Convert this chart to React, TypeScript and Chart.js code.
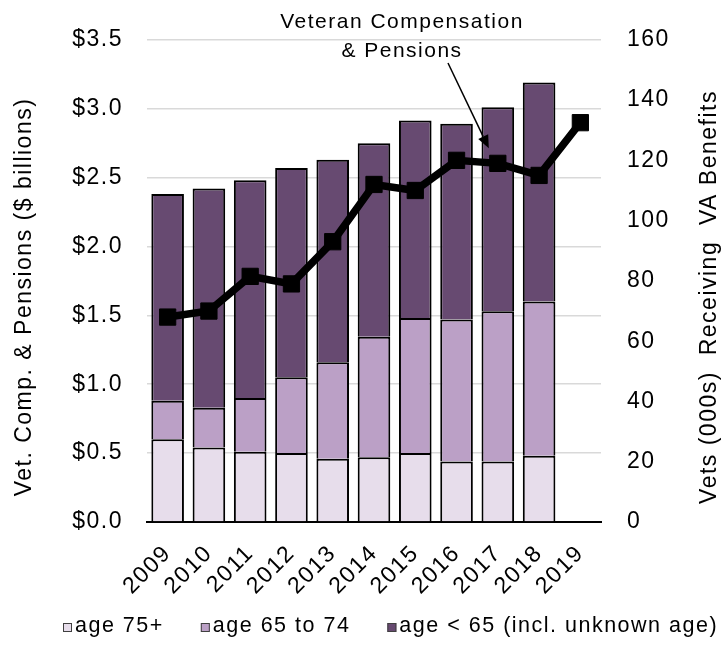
import React, { useEffect, useRef } from 'react';
import { Chart, registerables } from 'chart.js';

Chart.register(...registerables);

const FONT = "'Liberation Sans', Arial, Helvetica, sans-serif";
const LS = '1.5px';

const years = ['2009', '2010', '2011', '2012', '2013', '2014', '2015', '2016', '2017', '2018', '2019'];
const age75Plus = [0.6, 0.54, 0.51, 0.5, 0.46, 0.47, 0.5, 0.44, 0.44, 0.48];
const age65to74 = [0.28, 0.29, 0.39, 0.55, 0.7, 0.875, 0.98, 1.03, 1.09, 1.12];
const ageUnder65 = [1.5, 1.59, 1.58, 1.52, 1.47, 1.405, 1.435, 1.42, 1.48, 1.59];
const vetsReceiving = [68, 70, 81.5, 79, 93, 112, 110, 120, 119, 115, 132.5];

const leftTitle = 'Vet. Comp. & Pensions ($ billions)';
const rightTitle = 'Vets (000s)  Receiving  VA Benefits';
const annotationLines = ['Veteran Compensation', '& Pensions'];

const colors = {
  age75: '#E7DDEB',
  age65: '#BBA0C6',
  under65: '#674A71',
};

const legendItems = [
  { text: 'age 75+', color: colors.age75 },
  { text: 'age 65 to 74', color: colors.age65 },
  { text: 'age < 65 (incl. unknown age)', color: colors.under65 },
];

const spacingPlugin = {
  id: 'spacing',
  beforeInit(chart: any) { chart.ctx.letterSpacing = LS; },
  beforeUpdate(chart: any) { chart.ctx.letterSpacing = LS; },
  beforeLayout(chart: any) { chart.ctx.letterSpacing = LS; },
  beforeDraw(chart: any) { chart.ctx.letterSpacing = LS; },
};

const overlayPlugin = {
  id: 'overlay',
  afterDraw(chart: any) {
    const { ctx, scales } = chart;
    const x = scales.x;
    const y1 = scales.y1;
    ctx.save();
    ctx.letterSpacing = LS;
    ctx.fillStyle = '#000';
    ctx.strokeStyle = '#000';

    // axis titles
    ctx.font = `23px ${FONT}`;
    ctx.textAlign = 'center';
    ctx.textBaseline = 'middle';
    ctx.save();
    ctx.translate(25, 297);
    ctx.rotate(-Math.PI / 2);
    ctx.fillText(leftTitle, 0, 0);
    ctx.restore();
    ctx.save();
    ctx.translate(710, 297);
    ctx.rotate(-Math.PI / 2);
    ctx.fillText(rightTitle, 0, 0);
    ctx.restore();

    // annotation text
    ctx.font = `21px ${FONT}`;
    ctx.fillText(annotationLines[0], 402, 22);
    ctx.fillText(annotationLines[1], 402, 51);

    // arrow pointing at the 2017 point
    const tipX = x.getPixelForValue(8) - 9;
    const tipY = y1.getPixelForValue(124);
    const sx = 448;
    const sy = 63;
    const dx = tipX - sx;
    const dy = tipY - sy;
    const len = Math.hypot(dx, dy);
    const ux = dx / len;
    const uy = dy / len;
    const headLen = 13;
    const headHalf = 5.5;
    const bx = tipX - ux * headLen;
    const by = tipY - uy * headLen;
    ctx.lineWidth = 1.5;
    ctx.beginPath();
    ctx.moveTo(sx, sy);
    ctx.lineTo(bx, by);
    ctx.stroke();
    ctx.beginPath();
    ctx.moveTo(tipX, tipY);
    ctx.lineTo(bx - uy * headHalf, by + ux * headHalf);
    ctx.lineTo(bx + uy * headHalf, by - ux * headHalf);
    ctx.closePath();
    ctx.fill();

    // legend
    ctx.font = `21.5px ${FONT}`;
    ctx.textAlign = 'left';
    ctx.textBaseline = 'middle';
    let lx = 63;
    const ly = 626;
    legendItems.forEach((item) => {
      ctx.fillStyle = item.color;
      ctx.fillRect(lx, ly - 3, 9, 9);
      ctx.strokeStyle = '#404040';
      ctx.lineWidth = 1;
      ctx.strokeRect(lx + 0.5, ly - 2.5, 8, 8);
      ctx.fillStyle = '#000';
      const tx = lx + 12;
      ctx.fillText(item.text, tx, ly);
      lx = tx + ctx.measureText(item.text).width + 37;
    });

    ctx.restore();
  },
};

export default function App() {
  const canvasRef = useRef<HTMLCanvasElement | null>(null);

  useEffect(() => {
    document.body.style.margin = '0';
    const canvas = canvasRef.current;
    if (!canvas) return;
    Chart.defaults.font.family = FONT;
    Chart.defaults.color = '#000';

    const barBorder = { top: 2, left: 2, right: 2, bottom: 0 };

    const chart = new Chart(canvas, {
      type: 'bar',
      data: {
        labels: years,
        datasets: [
          {
            type: 'line',
            label: 'Vets Receiving VA Benefits',
            data: vetsReceiving,
            yAxisID: 'y1',
            borderColor: '#000',
            backgroundColor: '#000',
            borderWidth: 7.5,
            pointStyle: 'rect',
            pointRadius: 11.5,
            pointBorderWidth: 1,
            pointBackgroundColor: '#000',
            pointBorderColor: '#000',
            tension: 0,
            order: 0,
          } as any,
          {
            label: 'age 75+',
            data: age75Plus,
            backgroundColor: colors.age75,
            borderColor: '#000',
            borderWidth: barBorder,
            borderSkipped: false,
            barPercentage: 0.79,
            categoryPercentage: 1,
            yAxisID: 'y',
            order: 1,
          },
          {
            label: 'age 65 to 74',
            data: age65to74,
            backgroundColor: colors.age65,
            borderColor: '#000',
            borderWidth: barBorder,
            borderSkipped: false,
            barPercentage: 0.79,
            categoryPercentage: 1,
            yAxisID: 'y',
            order: 1,
          },
          {
            label: 'age < 65 (incl. unknown age)',
            data: ageUnder65,
            backgroundColor: colors.under65,
            borderColor: '#000',
            borderWidth: barBorder,
            borderSkipped: false,
            barPercentage: 0.79,
            categoryPercentage: 1,
            yAxisID: 'y',
            order: 1,
          },
        ],
      },
      options: {
        responsive: false,
        animation: false,
        devicePixelRatio: 1,
        layout: { padding: { top: 35, left: 0, right: 0, bottom: 0 } },
        plugins: {
          legend: { display: false },
          tooltip: { enabled: false },
          title: { display: false },
        },
        scales: {
          x: {
            stacked: true,
            z: 1,
            grid: { display: false, drawTicks: false },
            border: { display: true, color: '#000', width: 2 },
            ticks: {
              color: '#000',
              font: { size: 23, family: FONT },
              maxRotation: 45,
              minRotation: 45,
              autoSkip: false,
              padding: 18,
            },
            afterFit: (s: any) => { s.height = 124; },
          },
          y: {
            stacked: true,
            position: 'left',
            min: 0,
            max: 3.5,
            ticks: {
              stepSize: 0.5,
              color: '#000',
              font: { size: 23, family: FONT },
              padding: 24,
              callback: (v: any) => '$' + Number(v).toFixed(1),
            },
            grid: { color: '#D9D9D9', lineWidth: 1.5, drawTicks: false },
            border: { display: false },
            afterFit: (s: any) => { s.width = 147; },
          },
          y1: {
            position: 'right',
            min: 0,
            max: 160,
            ticks: {
              stepSize: 20,
              color: '#000',
              font: { size: 23, family: FONT },
              padding: 26,
            },
            grid: { display: false, drawTicks: false },
            border: { display: false },
            afterFit: (s: any) => { s.width = 123; },
          },
        },
      },
      plugins: [spacingPlugin, overlayPlugin],
    } as any);

    return () => chart.destroy();
  }, []);

  return (
    <div style={{ width: 724, height: 646, background: '#fff' }}>
      <canvas ref={canvasRef} width={724} height={646} style={{ display: 'block' }} />
    </div>
  );
}
